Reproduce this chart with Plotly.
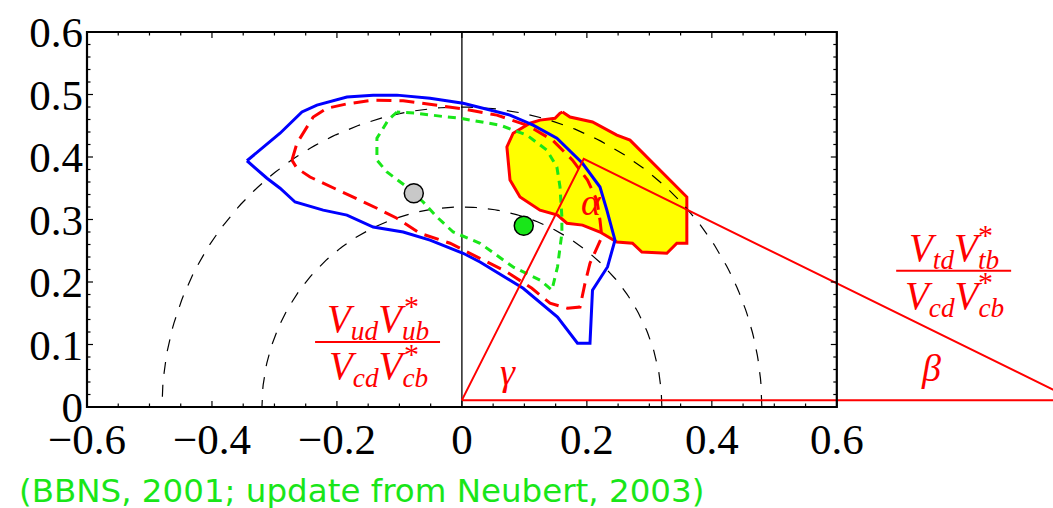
import numpy as np
import plotly.graph_objects as go

# ---------------- data ----------------
blue_x = [-0.344, -0.304, -0.291, -0.256, -0.232, -0.184, -0.142, -0.104, -0.051, 0.002, 0.077, 0.114,
          0.152, 0.193, 0.221, 0.232, 0.245, 0.233, 0.209, 0.205, 0.185, 0.153, 0.098, 0.029, 0.002,
          -0.051, -0.094, -0.142, -0.184, -0.222, -0.267, -0.291, -0.312]
blue_y = [0.394, 0.427, 0.438, 0.472, 0.483, 0.496, 0.499, 0.499, 0.494, 0.486, 0.467, 0.451,
          0.430, 0.390, 0.352, 0.315, 0.267, 0.224, 0.187, 0.102, 0.102, 0.144, 0.190, 0.232, 0.246,
          0.267, 0.280, 0.288, 0.307, 0.315, 0.328, 0.350, 0.366]

red_x = [-0.272, -0.264, -0.238, -0.216, -0.184, -0.142, -0.094, -0.040, 0.002, 0.056, 0.104, 0.145,
         0.177, 0.201, 0.216, 0.221, 0.224, 0.205, 0.197, 0.189, 0.169, 0.141, 0.112, 0.072, 0.029,
         -0.019, -0.067, -0.104, -0.136, -0.174, -0.216, -0.243, -0.264]
red_y = [0.395, 0.422, 0.464, 0.478, 0.485, 0.491, 0.490, 0.483, 0.477, 0.467, 0.451, 0.427,
         0.395, 0.363, 0.331, 0.299, 0.272, 0.230, 0.198, 0.160, 0.158, 0.166, 0.190, 0.216, 0.238,
         0.262, 0.278, 0.302, 0.318, 0.336, 0.355, 0.368, 0.382]

green_x = [-0.104, -0.118, -0.136, -0.136, -0.120, -0.088, -0.062, -0.040, -0.014, 0.029, 0.082, 0.125,
           0.144, 0.153, 0.160, 0.160, 0.157, 0.152, 0.136, 0.104, 0.061, -0.003, -0.024, -0.072]
green_y = [0.472, 0.459, 0.430, 0.395, 0.376, 0.352, 0.328, 0.304, 0.280, 0.262, 0.224, 0.203,
           0.187, 0.224, 0.278, 0.304, 0.352, 0.384, 0.411, 0.435, 0.451, 0.462, 0.464, 0.470]

yellow_x = [0.161, 0.173, 0.209, 0.248, 0.269, 0.360, 0.360, 0.344, 0.328, 0.288, 0.273, 0.248,
            0.221, 0.193, 0.168, 0.153, 0.125, 0.109, 0.093, 0.077, 0.072, 0.082, 0.109, 0.125,
            0.149, 0.157]
yellow_y = [0.472, 0.464, 0.456, 0.435, 0.427, 0.336, 0.262, 0.262, 0.246, 0.248, 0.262, 0.264,
            0.280, 0.291, 0.294, 0.307, 0.315, 0.326, 0.336, 0.363, 0.416, 0.438, 0.454, 0.459,
            0.462, 0.470]

circle_radii = [0.32, 0.48]

triangle_x = [0.0, 0.195, 0.98, 0.0]
triangle_y = [0.011, 0.397, 0.011, 0.011]

point_x = [-0.077, 0.099]
point_y = [0.342, 0.290]
point_colors = ["#c8c8c8", "#19e619"]

x_tick_vals = [-0.6, -0.4, -0.2, 0.0, 0.2, 0.4, 0.6]
x_tick_text = ["\u22120.6", "\u22120.4", "\u22120.2", "0", "0.2", "0.4", "0.6"]
y_tick_vals = [0.0, 0.1, 0.2, 0.3, 0.4, 0.5, 0.6]
y_tick_text = ["0", "0.1", "0.2", "0.3", "0.4", "0.5", "0.6"]

X0, X1, Y0, Y1 = -0.6, 0.6, 0.0, 0.6
XR = [-0.6048, 0.946]
YR = [-0.0048, 0.6048]

RED = "#ff0000"
BLUE = "#0000ff"
GREEN = "#19e619"
SERIF = "Liberation Serif"


def closed(a):
    return list(a) + [a[0]]


fig = go.Figure()

# yellow region (bottom layer)
fig.add_trace(go.Scatter(x=closed(yellow_x), y=closed(yellow_y), mode="lines", fill="toself",
                         fillcolor="#ffff00", line=dict(color=RED, width=3), hoverinfo="skip"))

# vertical line at x = 0
fig.add_trace(go.Scatter(x=[0, 0], y=[Y0, Y1], mode="lines", line=dict(color="black", width=1.3),
                         hoverinfo="skip"))

# dashed circles
theta = np.linspace(0, np.pi, 200)
for r in circle_radii:
    fig.add_trace(go.Scatter(x=r * np.cos(theta), y=r * np.sin(theta), mode="lines",
                             line=dict(color="black", width=1.2, dash="12px,11px"), hoverinfo="skip"))

# contours
fig.add_trace(go.Scatter(x=closed(blue_x), y=closed(blue_y), mode="lines",
                         line=dict(color=BLUE, width=3), hoverinfo="skip"))
fig.add_trace(go.Scatter(x=closed(red_x), y=closed(red_y), mode="lines",
                         line=dict(color=RED, width=3, dash="15px,8px"), hoverinfo="skip"))
fig.add_trace(go.Scatter(x=closed(green_x), y=closed(green_y), mode="lines",
                         line=dict(color=GREEN, width=3, dash="8px,6px"), hoverinfo="skip"))

# unitarity triangle
fig.add_trace(go.Scatter(x=triangle_x, y=triangle_y, mode="lines",
                         line=dict(color=RED, width=2), hoverinfo="skip"))

# points
fig.add_trace(go.Scatter(x=point_x, y=point_y, mode="markers",
                         marker=dict(size=19, color=point_colors, line=dict(color="black", width=1.5)),
                         hoverinfo="skip"))

# frame ticks (inside)
px_x = (XR[1] - XR[0]) / 969.0
px_y = (YR[1] - YR[0]) / 381.0
tx, ty = [], []
for v in np.arange(X0, X1 + 1e-9, 0.05):
    L = 6 if abs(round(v / 0.2) * 0.2 - v) < 1e-6 else 3.5
    tx += [v, v, None, v, v, None]
    ty += [Y0, Y0 + L * px_y, None, Y1, Y1 - L * px_y, None]
for v in np.arange(Y0, Y1 + 1e-9, 0.02):
    L = 6 if abs(round(v / 0.1) * 0.1 - v) < 1e-6 else 3.5
    tx += [X0, X0 + L * px_x, None, X1, X1 - L * px_x, None]
    ty += [v, v, None, v, v, None]
fig.add_trace(go.Scatter(x=tx, y=ty, mode="lines", line=dict(color="black", width=1.2),
                         hoverinfo="skip"))

# frame
fig.add_shape(type="rect", xref="x", yref="y", x0=X0, y0=Y0, x1=X1, y1=Y1,
              line=dict(color="black", width=2.2), layer="above")

# fraction bars
fig.add_shape(type="line", xref="x", yref="y", x0=-0.235, x1=-0.035, y0=0.104, y1=0.104,
              line=dict(color=RED, width=2))
fig.add_shape(type="line", xref="x", yref="y", x0=0.695, x1=0.879, y0=0.218, y1=0.218,
              line=dict(color=RED, width=2))

math_font = dict(family=SERIF, size=39, color=RED)
star_font = dict(family=SERIF, size=30, color=RED)
greek_font = dict(family=SERIF, size=38, color=RED)

ann = [
    dict(x=-0.134, y=0.137, text="<i>V<sub>ud</sub>V<sub>ub</sub></i>", font=math_font),
    dict(x=-0.134, y=0.062, text="<i>V<sub>cd</sub>V<sub>cb</sub></i>", font=math_font),
    dict(x=-0.080, y=0.162, text="*", font=star_font),
    dict(x=-0.080, y=0.086, text="*", font=star_font),
    dict(x=0.788, y=0.251, text="<i>V<sub>td</sub>V<sub>tb</sub></i>", font=math_font),
    dict(x=0.788, y=0.174, text="<i>V<sub>cd</sub>V<sub>cb</sub></i>", font=math_font),
    dict(x=0.838, y=0.276, text="*", font=star_font),
    dict(x=0.838, y=0.201, text="*", font=star_font),
    dict(x=0.208, y=0.328, text="<i>\u03b1</i>", font=greek_font),
    dict(x=0.074, y=0.056, text="<i>\u03b3</i>", font=greek_font),
    dict(x=0.750, y=0.062, text="<i>\u03b2</i>", font=greek_font),
]
for a in ann:
    fig.add_annotation(xref="x", yref="y", showarrow=False, xanchor="center", yanchor="middle",
                       borderpad=0, **a)

fig.add_annotation(xref="paper", yref="paper", x=(18 - 84) / 969.0, y=(410 - 491) / 381.0,
                   xanchor="left", yanchor="middle", showarrow=False, borderpad=0,
                   text="(BBNS, 2001; update from Neubert, 2003)",
                   font=dict(family="DejaVu Sans", size=32.5, color=GREEN))

fig.update_layout(
    width=1053, height=508,
    margin=dict(l=84, r=0, t=29, b=98),
    paper_bgcolor="white", plot_bgcolor="white",
    showlegend=False,
    xaxis=dict(range=XR, tickvals=x_tick_vals, ticktext=x_tick_text, ticks="", showgrid=False,
               zeroline=False, showline=False, tickfont=dict(family=SERIF, size=43, color="black")),
    yaxis=dict(range=YR, tickvals=y_tick_vals, ticktext=y_tick_text, ticks="", showgrid=False,
               zeroline=False, showline=False, tickfont=dict(family=SERIF, size=43, color="black")),
)

fig.write_html("out.html")
